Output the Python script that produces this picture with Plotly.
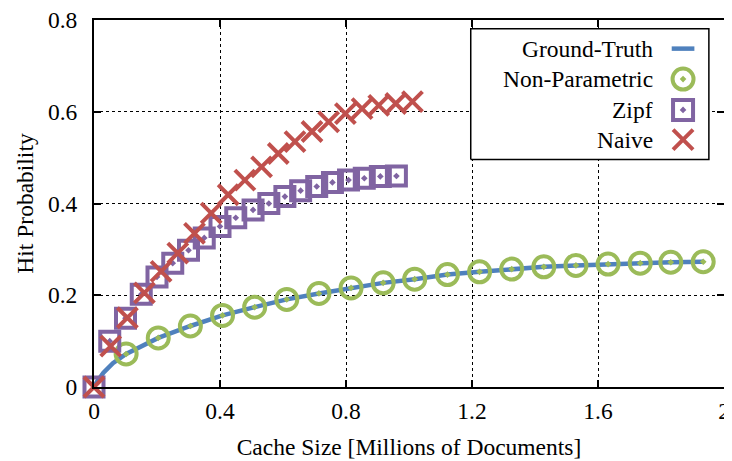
import plotly.graph_objects as go

# ---------------- data ----------------
gt_x = [0, 0.01, 0.03, 0.06, 0.102, 0.204, 0.306, 0.408, 0.51, 0.612, 0.714, 0.816, 0.918,
        1.018, 1.122, 1.224, 1.326, 1.428, 1.53, 1.632, 1.734, 1.831, 1.934]
gt_y = [0, 0.012, 0.031, 0.052, 0.072, 0.107, 0.133, 0.156, 0.174, 0.191, 0.204, 0.216, 0.227,
        0.235, 0.245, 0.251, 0.257, 0.262, 0.265, 0.268, 0.270, 0.272, 0.273]

np_x = [0.102, 0.204, 0.306, 0.408, 0.51, 0.612, 0.714, 0.816, 0.918,
        1.018, 1.122, 1.224, 1.326, 1.428, 1.53, 1.632, 1.734, 1.831, 1.934]
np_y = [0.072, 0.107, 0.133, 0.156, 0.174, 0.191, 0.204, 0.216, 0.227,
        0.235, 0.245, 0.251, 0.257, 0.262, 0.265, 0.268, 0.270, 0.272, 0.273]

zipf_x = [0, 0.05, 0.10, 0.15, 0.20, 0.25, 0.30, 0.35, 0.40, 0.45,
          0.505, 0.555, 0.606, 0.656, 0.707, 0.757, 0.808, 0.858, 0.909, 0.96]
zipf_y = [0, 0.100, 0.150, 0.202, 0.240, 0.270, 0.298, 0.325, 0.350, 0.369,
          0.386, 0.400, 0.415, 0.428, 0.437, 0.446, 0.451, 0.455, 0.459, 0.460]

naive_x = [0, 0.053, 0.106, 0.16, 0.213, 0.266, 0.319, 0.372, 0.426, 0.479,
           0.532, 0.585, 0.638, 0.692, 0.745, 0.798, 0.851, 0.904, 0.958, 1.011]
naive_y = [0, 0.089, 0.151, 0.205, 0.252, 0.292, 0.335, 0.379, 0.419, 0.451,
           0.480, 0.509, 0.535, 0.557, 0.578, 0.596, 0.607, 0.614, 0.618, 0.622]

series_names = ["Ground-Truth", "Non-Parametric", "Zipf", "Naive"]
x_ticks = [0, 0.4, 0.8, 1.2, 1.6, 2]
y_ticks = [0, 0.2, 0.4, 0.6, 0.8]

# ---------------- styles ----------------
BLUE = "#4f81bd"
GREEN = "#9bbb59"
PURPLE = "#8064a2"
RED = "#c0504d"
FONT = "Liberation Serif, Times New Roman, serif"
FS = 23.5

fig = go.Figure()

fig.add_trace(go.Scatter(x=gt_x, y=gt_y, mode="lines", name=series_names[0],
                         line=dict(color=BLUE, width=4.5), cliponaxis=False, showlegend=False))
fig.add_trace(go.Scatter(x=np_x, y=np_y, mode="markers", name=series_names[1],
                         marker=dict(symbol="circle-open-dot", size=21, color=GREEN,
                                     line=dict(color=GREEN, width=4)),
                         cliponaxis=False, showlegend=False))
fig.add_trace(go.Scatter(x=zipf_x, y=zipf_y, mode="markers", name=series_names[2],
                         marker=dict(symbol="square-open-dot", size=19, color=PURPLE,
                                     line=dict(color=PURPLE, width=4)),
                         cliponaxis=False, showlegend=False))
fig.add_trace(go.Scatter(x=naive_x, y=naive_y, mode="markers", name=series_names[3],
                         marker=dict(symbol="x-thin", size=20, color=RED,
                                     line=dict(color=RED, width=4)),
                         cliponaxis=False, showlegend=False))

# ---------------- custom legend (symbol to the right of the text) ----------------
leg_x0, leg_x1, leg_y0, leg_y1 = 0.598, 0.976, 0.620, 0.976
row_y = [0.922, 0.839, 0.755, 0.674]
sym_x = 0.935
txt_x = 0.891

fig.add_trace(go.Scatter(x=[leg_x0, leg_x1, leg_x1, leg_x0, leg_x0],
                         y=[leg_y0, leg_y0, leg_y1, leg_y1, leg_y0],
                         mode="lines", fill="toself", fillcolor="white",
                         line=dict(color="black", width=1.5), xaxis="x2", yaxis="y2",
                         showlegend=False, hoverinfo="skip"))
fig.add_trace(go.Scatter(x=[sym_x - 0.018, sym_x + 0.018], y=[row_y[0], row_y[0]], mode="lines",
                         line=dict(color=BLUE, width=4.5), xaxis="x2", yaxis="y2",
                         showlegend=False, hoverinfo="skip"))
fig.add_trace(go.Scatter(x=[sym_x], y=[row_y[1]], mode="markers",
                         marker=dict(symbol="circle-open-dot", size=21, color=GREEN,
                                     line=dict(color=GREEN, width=4)),
                         xaxis="x2", yaxis="y2", showlegend=False, hoverinfo="skip"))
fig.add_trace(go.Scatter(x=[sym_x], y=[row_y[2]], mode="markers",
                         marker=dict(symbol="square-open-dot", size=20, color=PURPLE,
                                     line=dict(color=PURPLE, width=4)),
                         xaxis="x2", yaxis="y2", showlegend=False, hoverinfo="skip"))
fig.add_trace(go.Scatter(x=[sym_x], y=[row_y[3]], mode="markers",
                         marker=dict(symbol="x-thin", size=20, color=RED,
                                     line=dict(color=RED, width=4)),
                         xaxis="x2", yaxis="y2", showlegend=False, hoverinfo="skip"))

for name, yy in zip(series_names, row_y):
    fig.add_annotation(x=txt_x, y=yy, xref="paper", yref="paper", text=name, showarrow=False,
                       xanchor="right", yanchor="middle", font=dict(family=FONT, size=FS, color="black"))

axis_common = dict(showline=True, linecolor="black", linewidth=2, mirror="ticks",
                   ticks="inside", ticklen=7, tickwidth=1.5, tickcolor="black",
                   showgrid=True, gridcolor="black", gridwidth=1, griddash="dot",
                   zeroline=False, automargin=False, ticklabeloverflow="allow",
                   tickfont=dict(family=FONT, size=FS, color="black"))

# the page body has an 8px margin, so the figure is sized/offset to compensate
fig.update_layout(
    width=724, height=453,
    margin=dict(l=86, r=8, t=12, b=74),
    paper_bgcolor="white", plot_bgcolor="white",
    font=dict(family=FONT, size=FS, color="black"),
    xaxis=dict(range=[0, 2], tickvals=x_ticks, ticktext=[f"{v:g}" for v in x_ticks],
               ticklabelstandoff=2,
               title=dict(text="Cache Size [Millions of Documents]", standoff=15,
                          font=dict(family=FONT, size=FS)),
               **axis_common),
    yaxis=dict(range=[0, 0.8], tickvals=y_ticks, ticktext=[f"{v:g}" for v in y_ticks],
               ticklabelstandoff=10,
               title=dict(text="Hit Probability", standoff=8, font=dict(family=FONT, size=FS)),
               **axis_common),
    xaxis2=dict(range=[0, 1], overlaying="x", visible=False),
    yaxis2=dict(range=[0, 1], overlaying="y", visible=False),
    showlegend=False,
)

fig.write_html("out.html")
